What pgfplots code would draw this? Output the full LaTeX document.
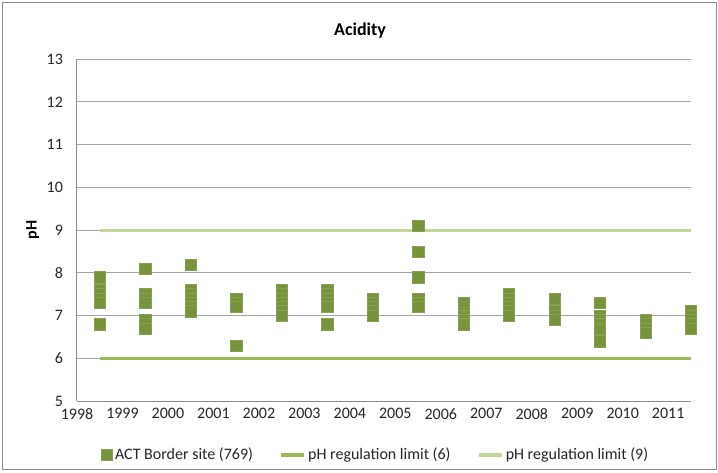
\documentclass[border=0pt]{standalone}
\usepackage{pgfplots}
\pgfplotsset{compat=1.18}
\usepackage{pgfplotstable}
\usepackage{fontspec}
\setmainfont{Carlito}
\definecolor{mkgreen}{HTML}{77933C}
\definecolor{limsix}{HTML}{9BBB59}
\definecolor{limnine}{HTML}{C3D69B}
\definecolor{gridgray}{HTML}{A6A6A6}
\definecolor{axgray}{HTML}{8C8C8C}
\definecolor{framegray}{HTML}{8C8C8C}

\pgfplotstableread{
x y
1998.5 7.9
1998.5 7.6
1998.5 7.5
1998.5 7.4
1998.5 7.3
1998.5 6.8
1999.5 8.1
1999.5 7.5
1999.5 7.4
1999.5 7.3
1999.5 6.9
1999.5 6.8
1999.5 6.7
2000.5 8.2
2000.5 7.6
2000.5 7.5
2000.5 7.4
2000.5 7.3
2000.5 7.2
2000.5 7.1
2001.5 7.4
2001.5 7.3
2001.5 7.2
2001.5 6.3
2002.5 7.6
2002.5 7.5
2002.5 7.4
2002.5 7.3
2002.5 7.2
2002.5 7.1
2002.5 7.0
2003.5 7.6
2003.5 7.5
2003.5 7.4
2003.5 7.3
2003.5 7.2
2003.5 6.8
2004.5 7.4
2004.5 7.3
2004.5 7.2
2004.5 7.1
2004.5 7.0
2005.5 9.1
2005.5 8.5
2005.5 7.9
2005.5 7.4
2005.5 7.3
2005.5 7.2
2006.5 7.3
2006.5 7.2
2006.5 7.0
2006.5 6.9
2006.5 6.8
2007.5 7.5
2007.5 7.4
2007.5 7.3
2007.5 7.2
2007.5 7.1
2007.5 7.0
2008.5 7.4
2008.5 7.1
2008.5 7.0
2008.5 6.9
2009.5 7.3
2009.5 7.0
2009.5 6.9
2009.5 6.8
2009.5 6.7
2009.5 6.4
2010.5 6.9
2010.5 6.8
2010.5 6.7
2010.5 6.6
2011.5 7.1
2011.5 7.0
2011.5 6.9
2011.5 6.8
2011.5 6.7
}\acidity

\pgfplotstableread{
x y
1998.5 6
2011.5 6
}\limsix

\pgfplotstableread{
x y
1998.5 9
2011.5 9
}\limnine

\begin{document}
\begin{tikzpicture}
\begin{axis}[
  scale only axis,
  width=460.5pt, height=256.3pt,
  xmin=1998, xmax=2011.5,
  ymin=5, ymax=13,
  xtick={1998,1999,...,2011},
  ytick={5,6,...,13},
  /pgf/number format/1000 sep={},
  /pgf/number format/assume math mode=true,
  tick label style={font=\fontsize{12}{14}\selectfont, text=black!85},
  major tick length=0pt,
  xticklabel style={yshift=-2pt},
  yticklabel style={xshift=-7pt},
  ymajorgrids, grid style={gridgray, line width=0.75pt},
  axis x line*=bottom, axis y line*=left,
  axis line style={axgray, line width=0.75pt, -},
  clip=false,
  title={\bfseries Acidity},
  title style={font=\fontsize{13.5}{16}\selectfont, at={(axis description cs:0.461,1)}, anchor=south, yshift=6pt},
  ylabel={\bfseries pH},
  ylabel style={font=\fontsize{12}{14}\selectfont, at={(axis description cs:-0.072,0.5)}, anchor=center},
  legend style={at={(axis description cs:0.487,-0.158)}, anchor=center, draw=none,
    font=\fontsize{12}{14}\selectfont, text=black!85, legend columns=3,
    /tikz/every even column/.append style={column sep=18pt}},
  legend cell align=left,
]
\coordinate (O) at (rel axis cs:0,0);
\addplot[only marks, mark=square*, mark size=4.2pt,
  mark options={fill=mkgreen, draw=mkgreen!88!white, line width=0.3pt}] table {\acidity};
\addlegendentry{ACT Border site (769)}
\addplot[limsix, line width=2.3pt, no marks] table {\limsix};
\addlegendentry{pH regulation limit (6)}
\addplot[limnine, line width=2.3pt, no marks] table {\limnine};
\addlegendentry{pH regulation limit (9)}
\end{axis}
\draw[framegray, line width=0.75pt] ([shift={(-55.5pt,-51pt)}]O) rectangle ([shift={(479.25pt,298.5pt)}]O);
\path[use as bounding box] ([shift={(-57.75pt,-53.25pt)}]O) rectangle ([shift={(480.75pt,300.75pt)}]O);
\end{tikzpicture}
\end{document}
